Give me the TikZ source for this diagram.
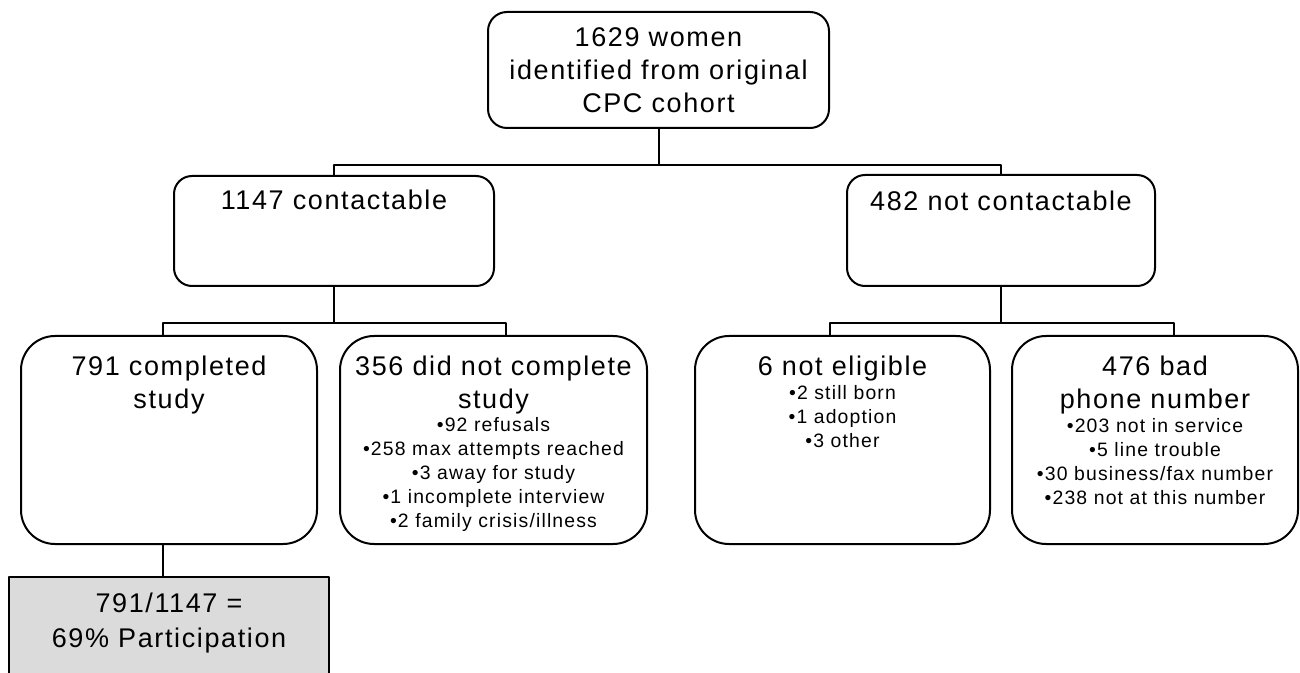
\documentclass[tikz,border=0pt]{standalone}
\usepackage{fontspec}
\setmainfont{Liberation Sans}[LetterSpace=6]
\usetikzlibrary{calc}

\begin{document}
\begin{tikzpicture}[x=0.5pt, y=-0.5pt, line cap=round, line join=round,
  box/.style={draw, line width=1pt, rounded corners=#1, inner sep=0pt},
  box/.default=9pt,
  title/.style={align=center, inner sep=0pt, anchor=north, font=\fontsize{13.5}{16.5}\selectfont},
  bullets/.style={align=center, inner sep=0pt, anchor=north, font=\fontsize{9.7}{12}\selectfont},
  link/.style={line width=1pt}]
  % Frame (pixel units, y downwards)
  \useasboundingbox (0,0) rectangle (1300,673);
  \clip (0,0) rectangle (1300,673);

  % Boxes
  \node[box=9.5pt, minimum width=170.5pt, minimum height=58pt, align=center,
        font=\fontsize{13.5}{16.5}\selectfont] (cohort) at (658.5,70)
        {1629 women\\identified from original\\CPC cohort};
  \node[box=9pt, minimum width=160pt, minimum height=55pt] (contact) at (334,231) {};
  \node[box=9pt, minimum width=154pt, minimum height=55.5pt] (notcontact) at (1001,230.5) {};
  \node[box=17pt, minimum width=148pt, minimum height=104pt] (done) at (169,440) {};
  \node[box=17pt, minimum width=153.5pt, minimum height=104pt] (notdone) at (493.5,440) {};
  \node[box=17pt, minimum width=147.5pt, minimum height=104pt] (noteligible) at (842.5,440) {};
  \node[box=17pt, minimum width=143pt, minimum height=104pt] (badphone) at (1155,440) {};
  \node[draw, line width=1pt, fill=black!14, minimum width=160pt, minimum height=60pt,
        inner sep=0pt] (particip) at (169,637) {};

  % Texts
  \node[title] (contactlbl) at (334,190) {1147 contactable};
  \node[title] (notcontactlbl) at (1001,191) {482 not contactable};
  \node[title] (donelbl) at (169,356) {791 completed\\study};
  \node[title] (notdonelbl) at (493.5,356) {356 did not complete\\study};
  \node[title] (noteligiblelbl) at (842.5,356) {6 not eligible};
  \node[title] (badphonelbl) at (1155,356) {476 bad\\phone number};
  \node[bullets] (notdonelist) at (493.5,417.5)
    {•92 refusals\\•258 max attempts reached\\•3 away for study\\•1 incomplete interview\\•2 family crisis/illness};
  \node[bullets] (noteligiblelist) at (842.5,385.5)
    {•2 still born\\•1 adoption\\•3 other};
  \node[bullets] (badphonelist) at (1155,418.5)
    {•203 not in service\\•5 line trouble\\•30 business/fax number\\•238 not at this number};
  \node[title, font=\fontsize{13.5}{17.5}\selectfont] (participlbl) at (169,593)
    {791/1147 =\\69\% Participation};

  % Connectors
  \draw[link] (cohort.south) -- ++(0,36) coordinate (fork0);
  \draw[link] (contact.north) |- (fork0) -| (notcontact.north);
  \draw[link] (contact.south) -- ++(0,36) coordinate (fork1);
  \draw[link] ([xshift=-3pt]done.north) |- (fork1) -| ([xshift=6.25pt]notdone.north);
  \draw[link] (notcontact.south) -- ++(0,36) coordinate (fork2);
  \draw[link] ([xshift=-6.25pt]noteligible.north) |- (fork2) -| ([xshift=9.5pt]badphone.north);
  \draw[link] ([xshift=-3pt]done.south) -- ([xshift=-3pt]particip.north);
\end{tikzpicture}
\end{document}
